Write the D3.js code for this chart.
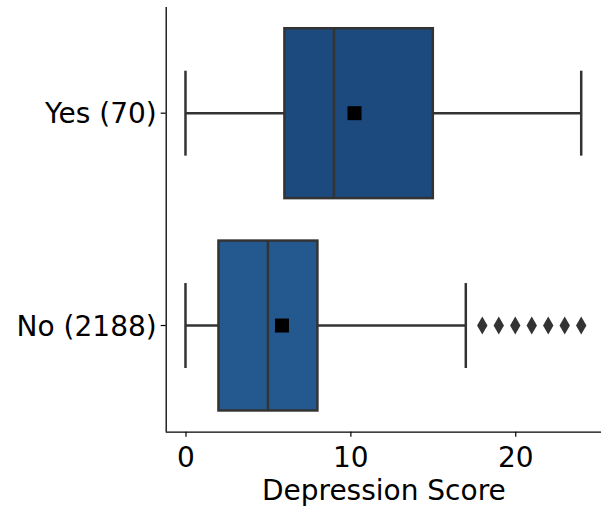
<!DOCTYPE html>
<html>
<head>
<meta charset="utf-8">
<script src="https://cdn.jsdelivr.net/npm/d3@7"></script>
<style>
  html, body { margin: 0; padding: 0; background: #fff; }
  svg text { font-family: "DejaVu Sans", sans-serif; fill: #000; }
</style>
</head>
<body>
<svg id="chart" width="605" height="508"></svg>
<script>
// ---- data ----
const categories = ["Yes (70)", "No (2188)"];
const q1 = [6, 2];
const median = [9, 5];
const q3 = [15, 8];
const whiskerLow = [0, 0];
const whiskerHigh = [24, 17];
const means = [10.25, 5.85];
const outliers = [[], [18, 19, 20, 21, 22, 23, 24]];
const boxColors = ["#1c4a7e", "#245990"];
const xTicks = [0, 10, 20];
const xLabel = "Depression Score";

// ---- layout ----
const svg = d3.select("#chart");
const mLeft = 165.7, mRight = 601, mTop = 7, mBottom = 431.7;
const x = d3.scaleLinear().domain([-1.2, 25.2]).range([mLeft, mRight]);
const y = d3.scaleBand().domain(categories).range([mTop, mBottom]).paddingInner(0).paddingOuter(0);
const boxH = y.bandwidth() * 0.8;
const lineCol = "#333333";
const lw = 2.5;
const fs = 28;

const g = svg.append("g");
categories.forEach((c, i) => {
  const cy = y(c) + y.bandwidth() / 2;
  // whiskers
  g.append("line").attr("x1", x(whiskerLow[i])).attr("x2", x(q1[i]))
    .attr("y1", cy).attr("y2", cy).attr("stroke", lineCol).attr("stroke-width", lw);
  g.append("line").attr("x1", x(q3[i])).attr("x2", x(whiskerHigh[i]))
    .attr("y1", cy).attr("y2", cy).attr("stroke", lineCol).attr("stroke-width", lw);
  // caps
  [whiskerLow[i], whiskerHigh[i]].forEach(v => {
    g.append("line").attr("x1", x(v)).attr("x2", x(v))
      .attr("y1", cy - boxH / 4).attr("y2", cy + boxH / 4)
      .attr("stroke", lineCol).attr("stroke-width", lw);
  });
  // box
  g.append("rect").attr("x", x(q1[i])).attr("y", cy - boxH / 2)
    .attr("width", x(q3[i]) - x(q1[i])).attr("height", boxH)
    .attr("fill", boxColors[i]).attr("stroke", lineCol).attr("stroke-width", lw);
  // median
  g.append("line").attr("x1", x(median[i])).attr("x2", x(median[i]))
    .attr("y1", cy - boxH / 2).attr("y2", cy + boxH / 2)
    .attr("stroke", lineCol).attr("stroke-width", lw);
  // mean
  g.append("rect").attr("x", x(means[i]) - 7).attr("y", cy - 7)
    .attr("width", 14).attr("height", 14).attr("fill", "#000");
  // outliers (thin diamonds)
  outliers[i].forEach(v => {
    const px = x(v);
    g.append("path")
      .attr("d", `M${px},${cy - 9}L${px + 5.2},${cy}L${px},${cy + 9}L${px - 5.2},${cy}Z`)
      .attr("fill", lineCol);
  });
});

// ---- axes ----
const xAxis = d3.axisBottom(x).tickValues(xTicks).tickSize(5).tickPadding(6).tickFormat(d3.format("d"));
const gx = svg.append("g").attr("transform", `translate(0,${mBottom})`).call(xAxis);
gx.select(".domain").attr("d", `M${mLeft},0.5H${mRight}`).attr("stroke", "#000").attr("stroke-width", 1.3);
gx.selectAll(".tick line").attr("stroke", "#000").attr("stroke-width", 1.2);
gx.selectAll(".tick text").attr("font-size", fs).attr("fill", "#000")
  .attr("font-family", "DejaVu Sans").attr("dy", null).attr("y", 35.5);

const yAxis = d3.axisLeft(y).tickSize(5).tickPadding(4);
const gy = svg.append("g").attr("transform", `translate(${mLeft},0)`).call(yAxis);
gy.select(".domain").attr("d", `M0.5,${mTop}V${mBottom}`).attr("stroke", "#000").attr("stroke-width", 1.3);
gy.selectAll(".tick line").attr("stroke", "#000").attr("stroke-width", 1.2);
gy.selectAll(".tick text").attr("font-size", fs).attr("fill", "#000")
  .attr("font-family", "DejaVu Sans").attr("dy", "0.36em").attr("x", -9);

svg.append("text").attr("x", (mLeft + mRight) / 2 + 0.5).attr("y", 500)
  .attr("text-anchor", "middle").attr("font-size", fs).text(xLabel);
</script>
</body>
</html>
